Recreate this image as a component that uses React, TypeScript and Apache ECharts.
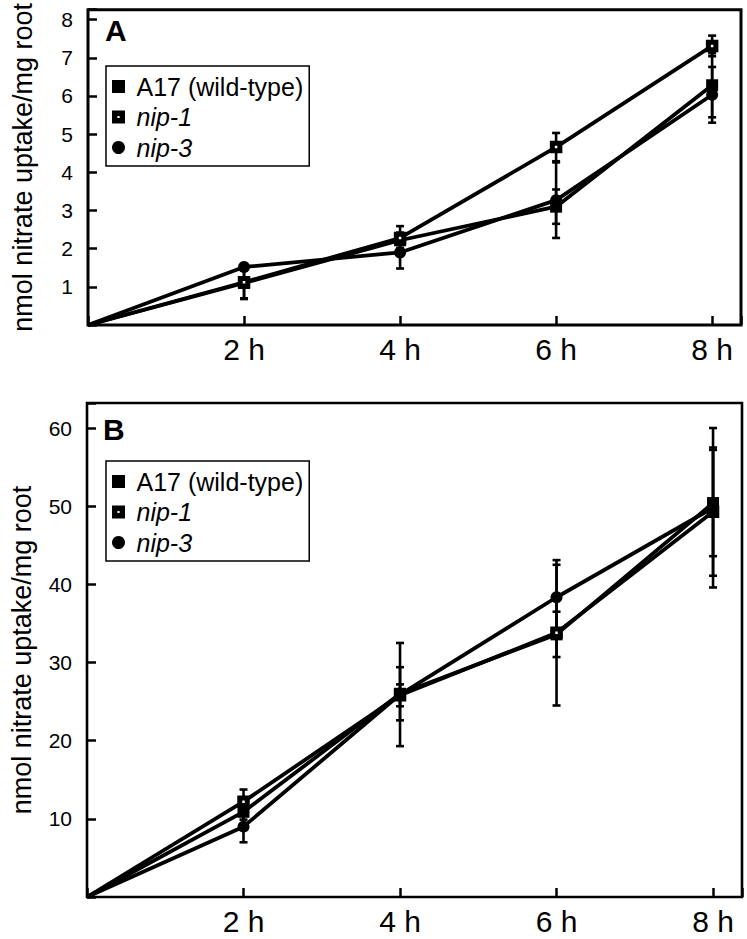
import React, { useEffect, useRef } from "react";
import * as echarts from "echarts";

// ---- data ----
const hours = [0, 2, 4, 6, 8];
const seriesNames = ["A17 (wild-type)", "nip-1", "nip-3"];

// Panel A (nmol nitrate uptake/mg root)
const aA17 = [0, 1.1, 2.22, 3.1, 6.28];
const aA17Err = [0, 0.4, 0.2, 0.45, 0.84];
const aNip1 = [0, 1.12, 2.28, 4.66, 7.31];
const aNip1Err = [0, 0.44, 0.31, 0.37, 0.27];
const aNip3 = [0, 1.52, 1.9, 3.27, 6.03];
const aNip3Err = [0, 0.08, 0.42, 0.99, 0.73];

// Panel B
const bA17 = [0, 10.9, 26.0, 33.6, 50.4];
const bA17Err = [0, 1.0, 3.4, 2.9, 6.8];
const bNip1 = [0, 12.2, 25.8, 33.8, 49.3];
const bNip1Err = [0, 1.55, 1.4, 9.3, 8.2];
const bNip3 = [0, 9.0, 25.9, 38.35, 49.8];
const bNip3Err = [0, 2.0, 6.6, 4.15, 10.2];

const yAxisName = "nmol nitrate uptake/mg root";
const panelLabels = ["A", "B"];

const FONT = "'Liberation Sans', Arial, sans-serif";

const RECT_ICON = "path://M0 0H10V10H0Z";
const NIP1_ICON = "path://M0 0H12V12H0Z M5 5V7H7V5Z";

function pairs(vals: number[]) {
  return hours.map((h, i) =>
    h === 0 ? { value: [h, vals[i]], symbol: "none" } : { value: [h, vals[i]] }
  );
}
function errData(vals: number[], errs: number[]) {
  return hours
    .map((h, i) => [h, vals[i], errs[i]])
    .filter((d) => d[2] > 0);
}

function lineSeries(name: string, vals: number[], idx: number) {
  const base: any = {
    name,
    type: "line",
    xAxisIndex: idx,
    yAxisIndex: idx,
    data: pairs(vals),
    lineStyle: { color: "#000", width: 3.8 },
    z: 3,
    showAllSymbol: true,
  };
  if (name === "A17 (wild-type)") {
    base.symbol = "rect";
    base.symbolSize = 12;
    base.itemStyle = { color: "#000" };
  } else if (name === "nip-1") {
    base.symbol = "rect";
    base.symbolSize = 7.5;
    base.itemStyle = { color: "#fff", borderColor: "#000", borderWidth: 5 };
  } else {
    base.symbol = "circle";
    base.symbolSize = 12;
    base.itemStyle = { color: "#000" };
  }
  return base;
}

function errSeries(vals: number[], errs: number[], idx: number) {
  return {
    type: "custom",
    xAxisIndex: idx,
    yAxisIndex: idx,
    z: 1,
    silent: true,
    data: errData(vals, errs),
    renderItem: (params: any, api: any) => {
      const x = api.value(0);
      const y = api.value(1);
      const e = api.value(2);
      const top = api.coord([x, y + e]);
      const bot = api.coord([x, y - e]);
      const hw = 4;
      const st = { stroke: "#000", lineWidth: 2.6 };
      return {
        type: "group",
        children: [
          { type: "line", shape: { x1: top[0], y1: top[1], x2: bot[0], y2: bot[1] }, style: st },
          { type: "line", shape: { x1: top[0] - hw, y1: top[1], x2: top[0] + hw, y2: top[1] }, style: st },
          { type: "line", shape: { x1: bot[0] - hw, y1: bot[1], x2: bot[0] + hw, y2: bot[1] }, style: st },
        ],
      };
    },
  };
}

function xAxis(idx: number, max: number) {
  return {
    gridIndex: idx,
    type: "value",
    min: 0,
    max,
    interval: 2,
    axisLine: { show: false },
    splitLine: { show: false },
    axisTick: { inside: true, length: 9, lineStyle: { color: "#000", width: 2.5 } },
    axisLabel: {
      formatter: (v: number) => (v > 0 && v % 2 === 0 ? `${v} h` : ""),
      fontSize: 30,
      fontFamily: FONT,
      color: "#000",
      margin: 9,
    },
  };
}

function yAxis(idx: number, max: number, interval: number) {
  return {
    gridIndex: idx,
    type: "value",
    min: 0,
    max,
    interval,
    axisLine: { show: false },
    splitLine: { show: false },
    axisTick: { inside: true, length: 9, lineStyle: { color: "#000", width: 2.5 } },
    axisLabel: {
      formatter: (v: number) => (v > 0 && Math.abs(v % interval) < 1e-9 ? String(v) : ""),
      fontSize: 21,
      fontFamily: FONT,
      color: "#000",
      margin: 15,
    },
    name: yAxisName,
    nameLocation: "middle",
    nameGap: 52,
    nameTextStyle: { fontSize: 27, fontFamily: FONT, color: "#000" },
  };
}

function legend(top: number) {
  return {
    orient: "vertical",
    left: 106,
    top,
    padding: [8, 6, 6, 6],
    itemGap: 5.5,
    itemWidth: 26,
    itemHeight: 13,
    borderColor: "#000",
    borderWidth: 1.5,
    backgroundColor: "#fff",
    selectedMode: false,
    data: [
      { name: seriesNames[0], icon: RECT_ICON, itemStyle: { color: "#000", borderWidth: 0 } },
      { name: seriesNames[1], icon: NIP1_ICON, itemStyle: { color: "#000", borderWidth: 0 } },
      { name: seriesNames[2], icon: "circle", itemStyle: { color: "#000", borderWidth: 0 } },
    ],
    formatter: (name: string) => (name.startsWith("nip") ? `{i|${name}}` : name),
    textStyle: {
      fontSize: 25,
      fontFamily: FONT,
      color: "#000",
      rich: { i: { fontSize: 25, fontFamily: FONT, fontStyle: "italic", color: "#000" } },
    },
  };
}

export default function App() {
  const ref = useRef<HTMLDivElement>(null);
  useEffect(() => {
    if (!ref.current) return;
    const chart = echarts.init(ref.current, null, { renderer: "svg" });
    const option: any = {
      animation: false,
      backgroundColor: "#fff",
      grid: [
        { left: 88, top: 3, width: 653, height: 322, show: true, borderColor: "#000", borderWidth: 3 },
        { left: 87, top: 403, width: 655, height: 494, show: true, borderColor: "#000", borderWidth: 2.6 },
      ],
      xAxis: [xAxis(0, 8.37), xAxis(1, 8.37)],
      yAxis: [yAxis(0, 8.26, 1), yAxis(1, 63.2, 10)],
      legend: [legend(66), legend(461)],
      graphic: [
        { type: "text", left: 105, top: 15, style: { text: panelLabels[0], font: `bold 30px ${FONT}`, fill: "#000" } },
        { type: "text", left: 103, top: 414, style: { text: panelLabels[1], font: `bold 30px ${FONT}`, fill: "#000" } },
      ],
      series: [
        errSeries(aA17, aA17Err, 0),
        errSeries(aNip1, aNip1Err, 0),
        errSeries(aNip3, aNip3Err, 0),
        errSeries(bA17, bA17Err, 1),
        errSeries(bNip1, bNip1Err, 1),
        errSeries(bNip3, bNip3Err, 1),
        lineSeries(seriesNames[0], aA17, 0),
        lineSeries(seriesNames[1], aNip1, 0),
        lineSeries(seriesNames[2], aNip3, 0),
        lineSeries(seriesNames[0], bA17, 1),
        lineSeries(seriesNames[1], bNip1, 1),
        lineSeries(seriesNames[2], bNip3, 1),
      ],
    };
    chart.setOption(option);
    return () => chart.dispose();
  }, []);
  return (
    <div
      ref={ref}
      style={{ position: "absolute", left: 0, top: 0, width: 747, height: 939, background: "#fff" }}
    />
  );
}
